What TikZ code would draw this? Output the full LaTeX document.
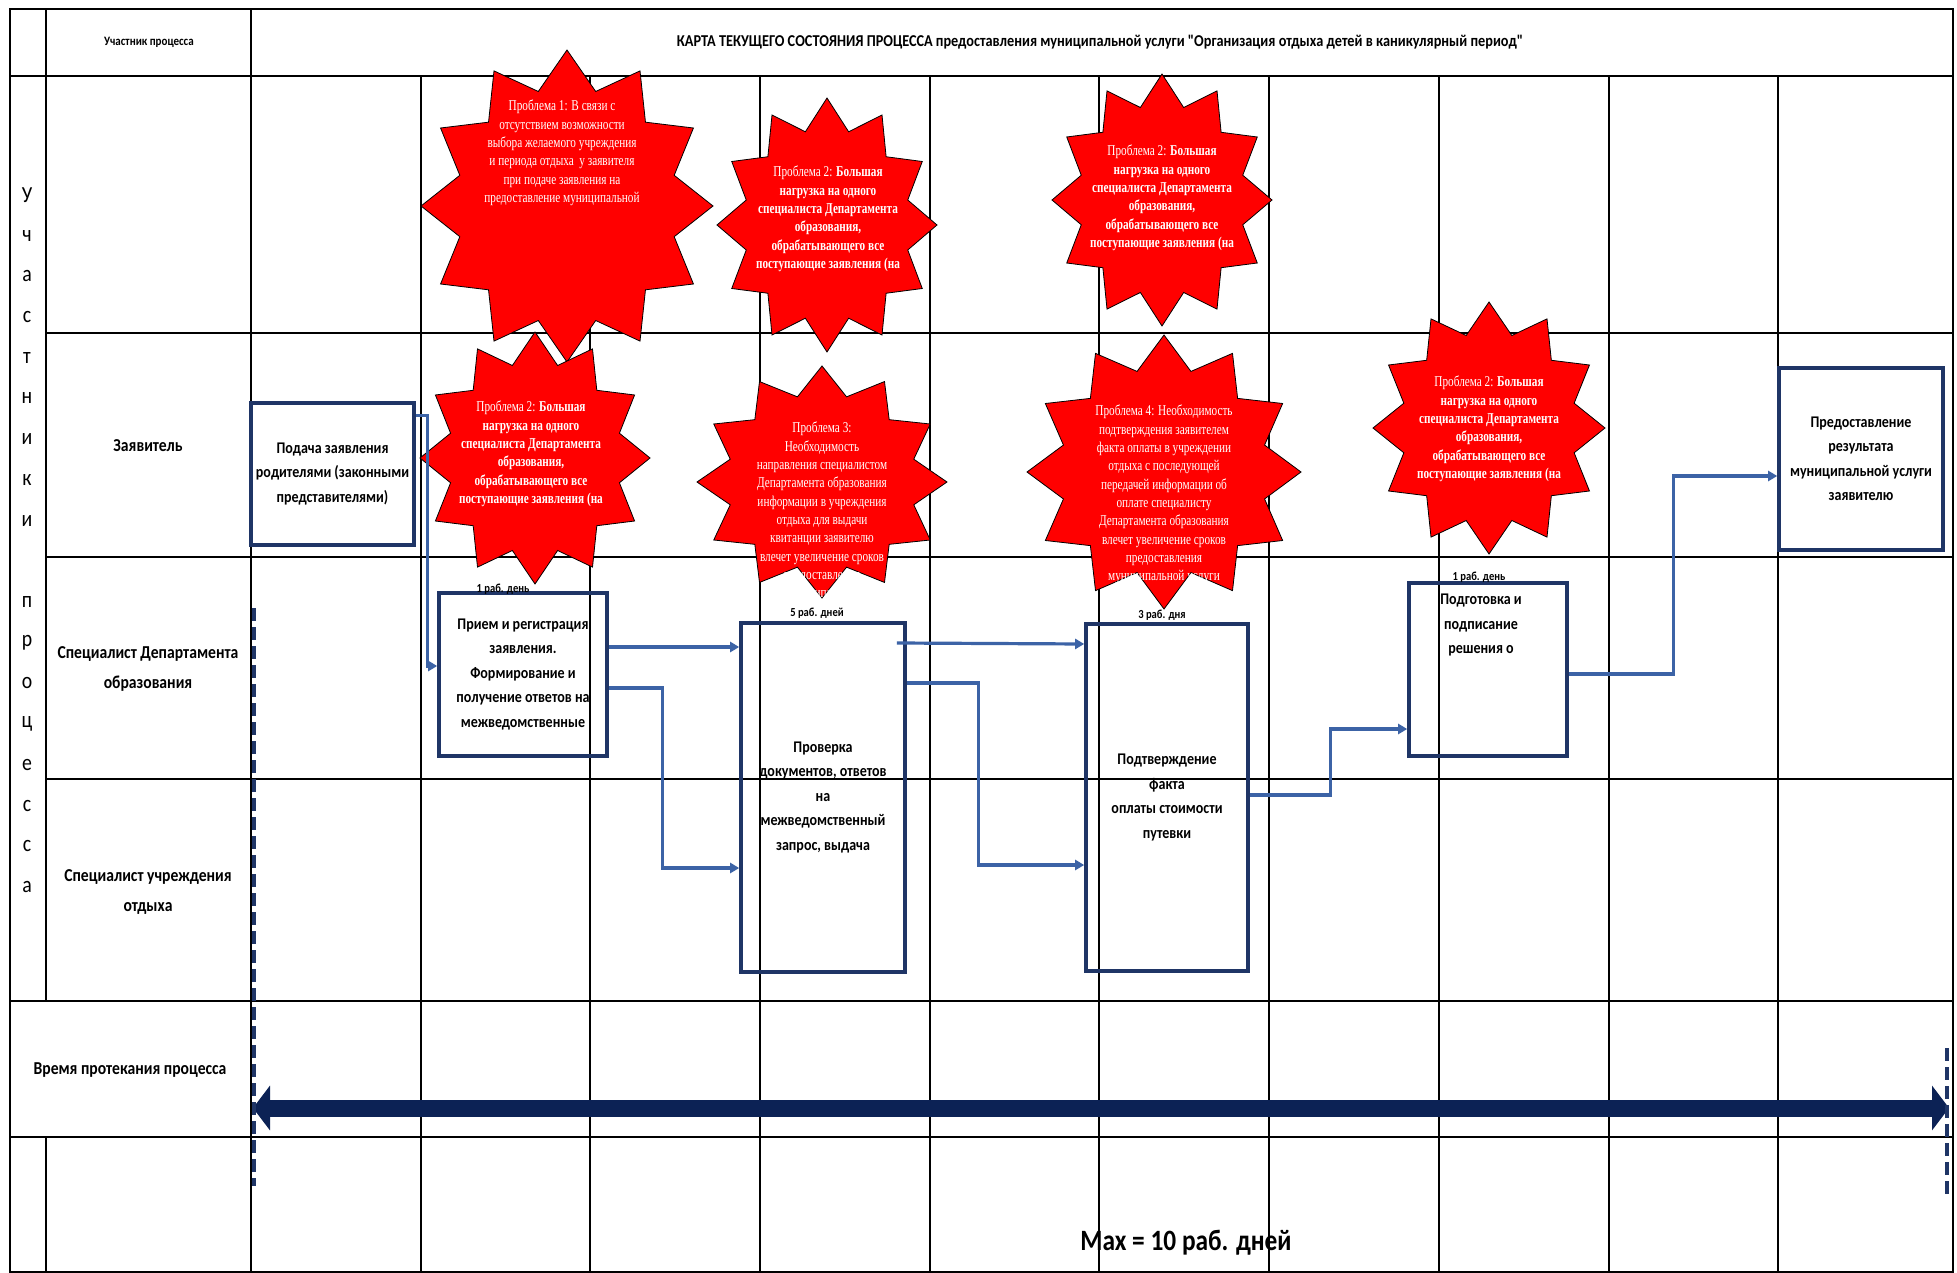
\documentclass[tikz,border=0pt]{standalone}
\usepackage{fontspec}
\setmainfont{Carlito}
\newfontfamily\calfam[FakeStretch=0.86]{Carlito}
\newfontfamily\tmsfam[FakeStretch=0.75]{Liberation Serif}
\usetikzlibrary{arrows.meta}
\definecolor{boxnavy}{HTML}{1F3566}
\definecolor{flowblue}{HTML}{3C63A6}
\definecolor{timenavy}{HTML}{0C2255}
\newcommand{\burstshape}[4]{%
  \filldraw[burst] (#1,{#2-#4}) \foreach \k in {0,...,11} { -- ({#1+0.76*#3*cos(105+30*\k)},{#2-0.76*#4*sin(105+30*\k)}) -- ({#1+#3*cos(120+30*\k)},{#2-#4*sin(120+30*\k)}) } -- cycle;}
\tikzset{
  gridline/.style={draw=black, line width=1.6pt},
  burst/.style={fill=red, draw=black, line width=0.8pt},
  bursttext/.style={text=white, font=\tmsfam\fontsize{15}{18.3}\selectfont, align=center, anchor=north, inner sep=0pt},
  procbox/.style={draw=boxnavy, line width=3.6pt, inner sep=0pt, align=center, font=\calfam\bfseries\fontsize{16.3}{24.5}\selectfont},
  proctext/.style={inner sep=0pt, align=center, font=\calfam\bfseries\fontsize{16.3}{24.5}\selectfont},
  flow/.style={draw=flowblue, line width=3.2pt, -{Triangle[length=9pt,width=10pt]}},
  durlabel/.style={inner sep=0pt, font=\calfam\bfseries\fontsize{12.3}{14}\selectfont},
  lanelabel/.style={inner sep=0pt, align=center, font=\calfam\bfseries\fontsize{18.2}{30}\selectfont},
  vletter/.style={inner sep=0pt, font=\calfam\fontsize{23}{26}\selectfont},
  timearrow/.style={draw=timenavy, line width=17pt, {Triangle[length=17pt,width=44pt]}-{Triangle[length=17pt,width=44pt]}},
  dashline/.style={draw=boxnavy, line width=3.2pt, dash pattern=on 13pt off 6pt}
}
\begin{document}
\begin{tikzpicture}[x=1pt,y=-1pt]
\useasboundingbox (0,0) rectangle (1957,1273);
\fill[white] (0,0) rectangle (1957,1273);
% grid
\draw[gridline] (10,9) rectangle (1953,1272);
\draw[gridline] (10,76) -- (1953,76);
\foreach \y in {333,557,779} \draw[gridline] (46,\y) -- (1953,\y);
\foreach \y in {1001,1137} \draw[gridline] (10,\y) -- (1953,\y);
\draw[gridline] (46,9) -- (46,1001);
\draw[gridline] (46,1137) -- (46,1272);
\draw[gridline] (251,9) -- (251,1272);
\foreach \x in {421,590,760,930,1099,1269,1439,1609,1778} \draw[gridline] (\x,76) -- (\x,1272);
% header
\node[inner sep=0pt, font=\calfam\bfseries\fontsize{12.8}{14}\selectfont] (hpart) at (149,42) {Участник процесса};
\node[inner sep=0pt, font=\calfam\bfseries\fontsize{16.6}{20}\selectfont] (title) at (1100,42) {КАРТА ТЕКУЩЕГО СОСТОЯНИЯ ПРОЦЕССА предоставления муниципальной услуги "Организация отдыха детей в каникулярный период"};
% vertical letters
\foreach \l [count=\i] in {У,ч,а,с,т,н,и,к,и} \node[vletter] (va\i) at (27,{195+40.7*(\i-1)}) {\l};
\foreach \l [count=\i] in {п,р,о,ц,е,с,с,а} \node[vletter] (vb\i) at (27,{602+40.7*(\i-1)}) {\l};
% lane labels
\node[lanelabel] (lane1) at (148,446) {Заявитель};
\node[lanelabel] (lane2) at (148,669) {Специалист Департамента\\образования};
\node[lanelabel] (lane3) at (148,892) {Специалист учреждения\\отдыха};
\node[lanelabel] (lane4) at (130,1070) {Время протекания процесса};
% stars
\burstshape{567}{206}{146}{156}
\node[bursttext] (p1) at (562,100) {Проблема 1: В связи с\\отсутствием возможности\\выбора желаемого учреждения\\и периода отдыха \ у заявителя\\при подаче заявления на\\предоставление муниципальной};
\burstshape{827}{225}{110}{127}
\node[bursttext] (p2a) at (828,166) {Проблема 2: \textbf{Большая}\\\textbf{нагрузка на одного}\\\textbf{специалиста Департамента}\\\textbf{образования,}\\\textbf{обрабатывающего все}\\\textbf{поступающие заявления (на}};
\burstshape{1162}{200}{110}{126}
\node[bursttext] (p2b) at (1162,145) {Проблема 2: \textbf{Большая}\\\textbf{нагрузка на одного}\\\textbf{специалиста Департамента}\\\textbf{образования,}\\\textbf{обрабатывающего все}\\\textbf{поступающие заявления (на}};
\burstshape{535}{458}{115}{126}
\node[bursttext] (p2c) at (531,401) {Проблема 2: \textbf{Большая}\\\textbf{нагрузка на одного}\\\textbf{специалиста Департамента}\\\textbf{образования,}\\\textbf{обрабатывающего все}\\\textbf{поступающие заявления (на}};
\burstshape{822}{482}{125}{116}
\node[bursttext] (p3) at (822,422) {Проблема 3:\\Необходимость\\направления специалистом\\Департамента образования\\информации в учреждения\\отдыха для выдачи\\квитанции заявителю\\влечет увеличение сроков\\предоставления\\муниципальной};
\burstshape{1164}{472}{137}{137}
\node[bursttext] (p4) at (1164,405) {Проблема 4: Необходимость\\подтверждения заявителем\\факта оплаты в учреждении\\отдыха с последующей\\передачей информации об\\оплате специалисту\\Департамента образования\\влечет увеличение сроков\\предоставления\\муниципальной услуги};
\burstshape{1489}{428}{116}{126}
\node[bursttext] (p2d) at (1489,376) {Проблема 2: \textbf{Большая}\\\textbf{нагрузка на одного}\\\textbf{специалиста Департамента}\\\textbf{образования,}\\\textbf{обрабатывающего все}\\\textbf{поступающие заявления (на}};
% process boxes
\node[procbox, minimum width=163pt, minimum height=142pt] (A) at (332.5,474) {Подача заявления\\родителями (законными\\представителями)};
\node[procbox, minimum width=168pt, minimum height=163pt] (B) at (523,674.5) {Прием и регистрация\\заявления.\\Формирование и\\получение ответов на\\межведомственные};
\node[procbox, minimum width=164pt, minimum height=349pt] (C) at (823,797.5) {Проверка\\документов, ответов\\на\\межведомственный\\запрос, выдача};
\node[procbox, minimum width=162pt, minimum height=347pt] (D) at (1167,797.5) {Подтверждение\\факта\\оплаты стоимости\\путевки};
\node[procbox, minimum width=158pt, minimum height=173pt] (E) at (1488,669.5) {};
\node[proctext, anchor=north] (Et) at (1481,594) {Подготовка и\\подписание\\решения о};
\node[procbox, minimum width=164pt, minimum height=182pt] (F) at (1861,459) {Предоставление\\результата\\муниципальной услуги\\заявителю};
% duration labels
\node[durlabel] (d1) at (503,589) {1 раб. день};
\node[durlabel] (d2) at (817,613) {5 раб. дней};
\node[durlabel] (d3) at (1162,615) {3 раб. дня};
\node[durlabel] (d4) at (1479,577) {1 раб. день};
% flows
\draw[flow] ([yshift=-14pt]A.north east) -- ++(12,0) |- ([yshift=8.5pt]B.west);
\draw[flow] ([yshift=27.5pt]B.east) -- ([yshift=150.5pt]C.west);
\draw[flow] ([yshift=-13.5pt]B.east) -- ++(54,0) |- ([yshift=-70.5pt]C.west);
\draw[flow] ([xshift=-10pt,yshift=154.5pt]C.east) -- ([yshift=153.5pt]D.west);
\draw[flow] ([yshift=114.5pt]C.east) -- ++(72,0) |- ([yshift=-67.5pt]D.west);
\draw[flow] ([yshift=2.5pt]D.east) -- ++(81,0) |- ([yshift=-59.5pt]E.west);
\draw[flow] ([yshift=-4.5pt]E.east) -- ++(105,0) |- ([yshift=-17pt]F.west);
% time
\coordinate (tl) at (253,1108);
\coordinate (tr) at (1949,1108);
\draw[timearrow] (tl) -- (tr);
\coordinate (dl1) at (254,608);
\coordinate (dl2) at (254,1186);
\coordinate (dr1) at (1947,1048);
\coordinate (dr2) at (1947,1198);
\draw[dashline] (dl1) -- (dl2);
\draw[dashline] (dr1) -- (dr2);
\node[inner sep=0pt, font=\calfam\bfseries\fontsize{29.5}{32}\selectfont] (max) at (1186,1243) {Max = 10 раб. дней};
\end{tikzpicture}
\end{document}
